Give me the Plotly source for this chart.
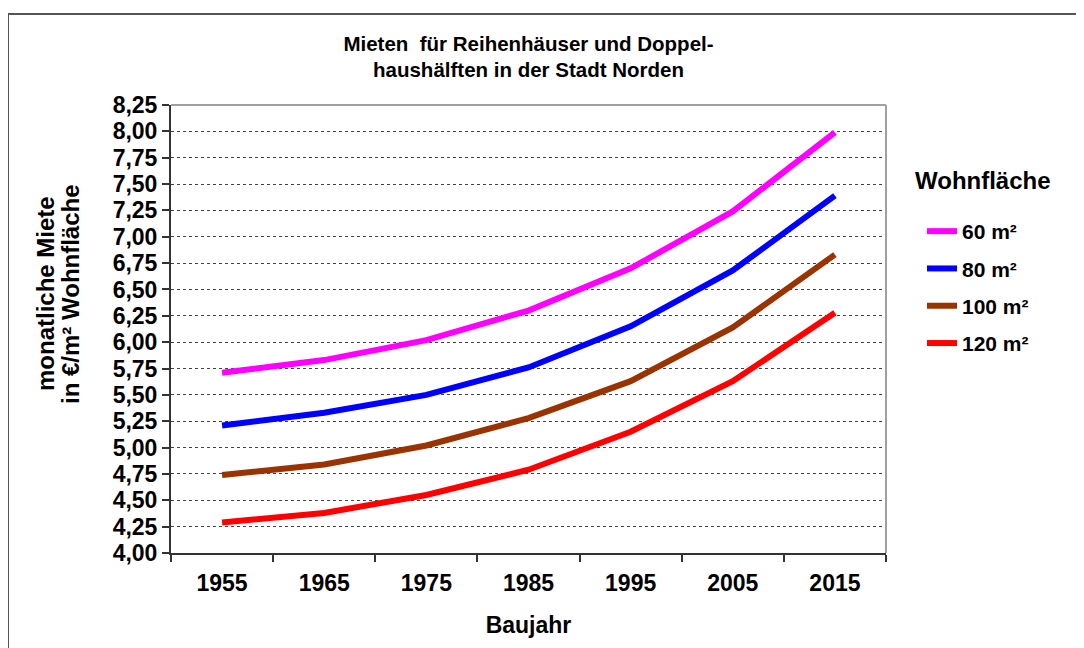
import plotly.graph_objects as go

years = ["1955", "1965", "1975", "1985", "1995", "2005", "2015"]
series_names = ["60 m²", "80 m²", "100 m²", "120 m²"]
rent_60 = [5.71, 5.83, 6.02, 6.30, 6.70, 7.24, 7.99]
rent_80 = [5.21, 5.33, 5.50, 5.76, 6.15, 6.68, 7.39]
rent_100 = [4.74, 4.84, 5.02, 5.28, 5.63, 6.14, 6.83]
rent_120 = [4.29, 4.38, 4.55, 4.79, 5.15, 5.63, 6.28]
colors = ["#FF00FF", "#0000FF", "#993300", "#FF0000"]
y_ticks = [4.00 + 0.25 * i for i in range(18)]

OFF = 8  # page body margin
W, H = 1084 - OFF, 648 - OFF
# plot area in reference page pixels: x 171..886, y 105..553
L, R, T, B = 171 - OFF, 1084 - 886, 105 - OFF, 648 - 553
pw, ph = W - L - R, H - T - B

def px_x(x):
    return (x - OFF - L) / pw

def px_y(y):
    return (H - B - (y - OFF)) / ph

FONT = "Liberation Sans, Arial, sans-serif"

fig = go.Figure()
for name, vals, col in zip(series_names, [rent_60, rent_80, rent_100, rent_120], colors):
    fig.add_trace(go.Scatter(
        x=years, y=vals, name=name, mode="lines",
        line=dict(color=col, width=6),
        legendgroup=name,
    ))

fig.update_layout(
    width=W, height=H,
    margin=dict(l=L, r=R, t=T, b=B, autoexpand=False),
    paper_bgcolor="white", plot_bgcolor="white",
    separators=",.",
    font=dict(family=FONT, color="black"),
    title=dict(
        text="<b>Mieten \u00a0für Reihenhäuser und Doppel-<br>haushälften in der Stadt Norden</b>",
        x=px_x(528.5), xref="paper", xanchor="center",
        y=1 - (50.5 - OFF) / H, yref="container", yanchor="middle",
        font=dict(size=20.5, family=FONT, color="black"),
    ),
    showlegend=True,
    legend=dict(
        x=px_x(922), xanchor="left", y=px_y(211), yanchor="top",
        font=dict(size=21, family=FONT, weight="bold"),
        tracegroupgap=7,
        bgcolor="rgba(0,0,0,0)",
    ),
    xaxis=dict(
        type="category", categoryorder="array", categoryarray=years,
        range=[-0.5, 6.5],
        tickson="boundaries", ticks="outside", ticklen=7, tickwidth=1.5, tickcolor="#333",
        showline=True, linecolor="#333", linewidth=2,
        showgrid=False,
        tickfont=dict(size=23, family=FONT, weight="bold"),
        ticklabelstandoff=8,
        title=dict(text="<b>Baujahr</b>", font=dict(size=23, family=FONT), standoff=22),
    ),
    yaxis=dict(
        range=[4.0, 8.25], tickmode="array", tickvals=y_ticks,
        tickformat=".2f", ticks="outside", ticklen=7, tickwidth=1.5, tickcolor="#333",
        showline=True, linecolor="#333", linewidth=2,
        showgrid=True, gridcolor="#444", griddash="dot", gridwidth=1,
        tickfont=dict(size=23, family=FONT, weight="bold"),
        zeroline=False,
    ),
    annotations=[
        dict(
            text="<b>monatliche Miete</b>",
            textangle=-90, xref="paper", yref="paper",
            x=px_x(45), y=px_y(294), xanchor="center", yanchor="middle",
            showarrow=False, font=dict(size=24, family=FONT, color="black"),
        ),
        dict(
            text="<b>in €/m² Wohnfläche</b>",
            textangle=-90, xref="paper", yref="paper",
            x=px_x(70), y=px_y(294), xanchor="center", yanchor="middle",
            showarrow=False, font=dict(size=24, family=FONT, color="black"),
        ),
        dict(
            text="<b>Wohnfläche</b>",
            xref="paper", yref="paper",
            x=px_x(913), y=px_y(180), xanchor="left", yanchor="middle",
            showarrow=False, font=dict(size=24, family=FONT, color="black"),
        ),
    ],
    shapes=[
        dict(type="line", xref="paper", yref="paper", x0=0, x1=1, y0=1, y1=1,
             line=dict(color="#A0A0A0", width=2), layer="above"),
        dict(type="line", xref="paper", yref="paper", x0=1, x1=1, y0=0, y1=1,
             line=dict(color="#A0A0A0", width=2), layer="above"),
        dict(type="rect", xref="paper", yref="paper",
             x0=px_x(8), x1=px_x(1100), y0=px_y(14), y1=px_y(670),
             line=dict(color="#555", width=2), layer="below"),
    ],
)

fig.write_html("out.html")
